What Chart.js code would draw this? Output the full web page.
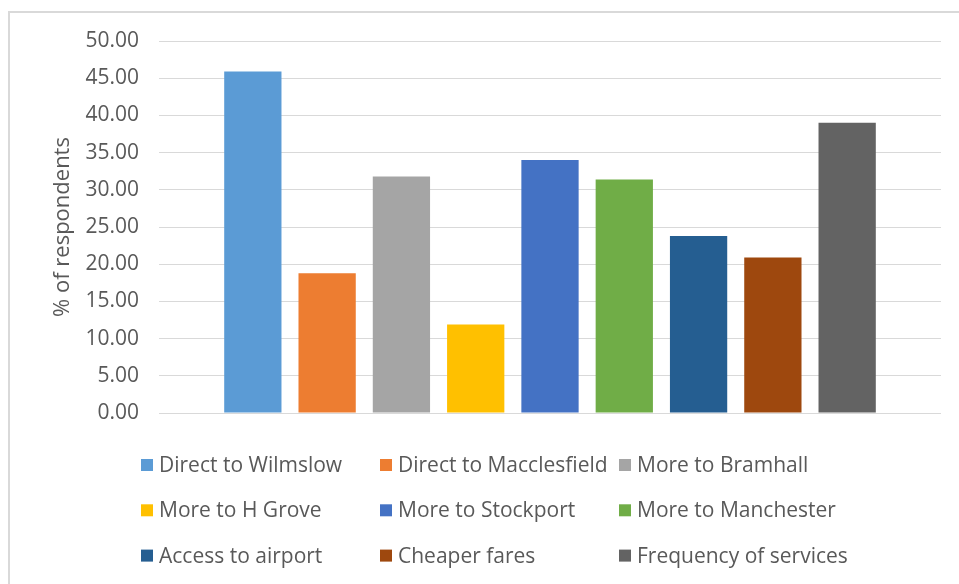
<!DOCTYPE html>
<html>
<head>
<meta charset="utf-8">
<script src="https://cdn.jsdelivr.net/npm/chart.js@4/dist/chart.umd.min.js"></script>
<style>
  html, body { margin: 0; padding: 0; background: #ffffff; }
  #wrap { position: relative; width: 959px; height: 584px; overflow: hidden; }
  #frame { position: absolute; left: 8px; top: 11px; width: 1000px; height: 700px; border: 2px solid #d9d9d9; box-sizing: border-box; }
  canvas { position: absolute; left: 0; top: 0; }
</style>
</head>
<body>
<div id="wrap">
  <div id="frame"></div>
  <canvas id="c" width="959" height="584"></canvas>
</div>
<script>
const categories = [
  "Direct to Wilmslow", "Direct to Macclesfield", "More to Bramhall",
  "More to H Grove", "More to Stockport", "More to Manchester",
  "Access to airport", "Cheaper fares", "Frequency of services"
];
const values = [45.9, 18.8, 31.8, 11.9, 34.0, 31.4, 23.8, 20.9, 39.0];
const colors = ["#5B9BD5", "#ED7D31", "#A5A5A5", "#FFC000", "#4472C4", "#70AD47", "#255E91", "#9E480E", "#636363"];
const yMin = 0, yMax = 50, yStep = 5;
const yTitle = "% of respondents";

const textColor = "#595959";
const fontFamily = "'Open Sans', 'Noto Sans', sans-serif";

const gridLegend = {
  id: 'gridLegend',
  afterDraw(chart, args, opts) {
    const ctx = chart.ctx;
    ctx.save();
    ctx.font = opts.fontSize + "px " + fontFamily;
    ctx.fillStyle = textColor;
    ctx.textBaseline = 'middle';
    ctx.textAlign = 'left';
    chart.data.datasets.forEach((ds, i) => {
      const col = i % opts.cols, row = Math.floor(i / opts.cols);
      const x = opts.x + col * opts.colW;
      const y = opts.y + row * opts.rowH;
      ctx.fillStyle = ds.backgroundColor;
      ctx.fillRect(x, y - opts.box / 2, opts.box, opts.box);
      ctx.fillStyle = textColor;
      ctx.fillText(ds.label, x + opts.box + opts.gap, y + 1);
    });
    ctx.restore();
  }
};

const datasets = categories.map((name, i) => ({
  label: name,
  data: [values[i]],
  backgroundColor: colors[i],
  borderWidth: 0,
  categoryPercentage: 0.855,
  barPercentage: 0.771
}));

new Chart(document.getElementById('c'), {
  type: 'bar',
  data: { labels: [""], datasets },
  plugins: [gridLegend],
  options: {
    responsive: false,
    animation: false,
    devicePixelRatio: 1,
    layout: { padding: { top: 41, right: 18, bottom: 171, left: 0 } },
    plugins: {
      legend: { display: false },
      tooltip: { enabled: false },
      gridLegend: { x: 141, y: 465, colW: 239, rowH: 45.3, cols: 3, box: 12, gap: 6, fontSize: 21 }
    },
    scales: {
      x: { display: false },
      y: {
        min: yMin, max: yMax,
        afterFit(s) { s.width = 159; },
        border: { display: false },
        grid: { color: "#d9d9d9", lineWidth: 1, drawTicks: false },
        ticks: {
          stepSize: yStep,
          padding: 20,
          color: textColor,
          font: { family: fontFamily, size: 21 },
          callback: v => Number(v).toFixed(2)
        },
        title: {
          display: true,
          text: yTitle,
          color: textColor,
          font: { family: fontFamily, size: 22 },
          padding: { top: 50, bottom: 0 }
        }
      }
    }
  }
});
</script>
</body>
</html>
